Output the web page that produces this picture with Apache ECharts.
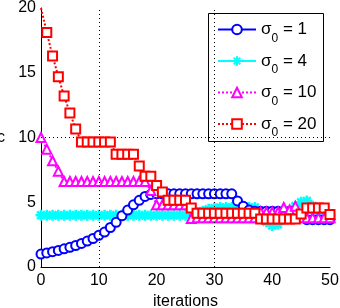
<!DOCTYPE html>
<html><head><meta charset="utf-8">
<script src="https://cdn.jsdelivr.net/npm/echarts@6/dist/echarts.min.js"></script>
<style>html,body{margin:0;padding:0;background:#fff}#c{width:340px;height:308px}</style>
</head><body><div id="c"></div>
<script>
const iterations = [0,1,2,3,4,5,6,7,8,9,10,11,12,13,14,15,16,17,18,19,20,21,22,23,24,25,26,27,28,29,30,31,32,33,34,35,36,37,38,39,40,41,42,43,44,45,46,47,48,49,50];
const sigma1 = [1.0,1.09,1.18,1.28,1.4,1.52,1.66,1.82,2.0,2.2,2.45,2.7,3.05,3.45,3.95,4.4,4.8,5.15,5.45,5.6,5.65,5.65,5.65,5.65,5.65,5.65,5.65,5.65,5.65,5.65,5.65,5.65,5.65,5.65,5.1,4.7,4.4,4.3,4.3,4.3,4.3,4.3,4.3,4.3,4.3,3.9,3.65,3.65,3.65,3.65,3.65];
const sigma4 = [4,4,4,4,4,4,4,4,4,4,4,4,4,4,4,4,4,4,4,4,4,4,4,4,4,4,4.1,4.2,4.3,4.45,4.55,4.6,4.6,4.6,4.6,4.6,4.6,4.6,4.0,3.5,3.2,3.3,3.7,4.2,4.7,5.0,5.1,4.7,4.2,4.0,4.0];
const sigma10 = [10,9.1,8.2,7.4,6.6,6.6,6.6,6.6,6.6,6.6,6.6,6.6,6.6,6.6,6.6,6.6,6.6,6.6,6.6,5.9,4.8,4.8,4.8,4.8,4.8,4.8,3.75,3.8,3.8,3.8,3.8,3.8,3.8,3.8,3.8,3.8,3.8,3.8,4.25,4.25,4.25,4.25,4.6,4.4,4.7,3.8,3.8,3.8,3.8,3.8,3.8];
const sigma20 = [20,18.1,16.3,14.7,13.2,11.9,10.65,9.65,9.65,9.65,9.65,9.65,9.65,8.7,8.7,8.7,8.7,7.8,7.0,7.0,6.3,5.8,5.15,5.15,5.15,5.15,4.55,4.15,4.15,4.15,4.15,4.15,4.15,4.15,4.15,4.15,4.15,4.15,3.7,3.7,3.7,3.7,3.7,3.7,3.7,4.1,4.55,4.55,4.55,4.55,4.05];
const seriesNames = ['1','4','10','20'];
const xTicks = [0,10,20,30,40,50];
const yTicks = [0,5,10,15,20];
const gridX = [10,30];
const gridY = [10];

const pairs = (ys) => iterations.map((x,i) => [x, ys[i]]);
const FONT = 'Liberation Sans';
const asterisk = 'path://M5,0L5,10M0,5L10,5M1.5,1.5L8.5,8.5M1.5,8.5L8.5,1.5';

const redData = pairs(sigma20);
redData[0] = {value: redData[0], symbol: 'none'};

const chart = echarts.init(document.getElementById('c'), null, {renderer: 'canvas'});
chart.setOption({
  animation: false,
  backgroundColor: '#fff',
  grid: {left: 41, right: 10, top: 8, bottom: 41, containLabel: false, outerBoundsMode: 'none'},
  graphic: [{
    type: 'rect', z: 3, silent: true,
    shape: {x: 208.5, y: 13.5, width: 115, height: 128},
    style: {fill: '#fff', stroke: '#000', lineWidth: 1}
  }],
  xAxis: {
    type: 'value', min: xTicks[0], max: xTicks[xTicks.length-1], interval: 10,
    axisLine: {lineStyle: {color: '#000', width: 1}},
    axisTick: {show: false}, splitLine: {show: false},
    axisLabel: {fontSize: 16, color: '#000', fontFamily: FONT, margin: 6},
    name: 'iterations', nameLocation: 'middle', nameGap: 23,
    nameTextStyle: {fontSize: 16, color: '#000', fontFamily: FONT}
  },
  yAxis: {
    type: 'value', min: yTicks[0], max: yTicks[yTicks.length-1], interval: 5,
    axisLine: {show: true, lineStyle: {color: '#000', width: 1}},
    axisTick: {show: false}, splitLine: {show: false},
    axisLabel: {fontSize: 16, color: '#000', fontFamily: FONT, margin: 5},
    name: 'c', nameLocation: 'middle', nameRotate: 0, nameGap: 36,
    nameTextStyle: {fontSize: 16, color: '#000', fontFamily: FONT}
  },
  legend: {
    data: seriesNames.map(n => 'σ' + n),
    orient: 'vertical', left: 217, top: 21, z: 6,
    padding: 0, itemGap: 8, itemWidth: 38, itemHeight: 12,
    formatter: (name) => '{a|σ}{b|0}{a| = ' + name.slice(1) + '}',
    textStyle: {
      color: '#000', fontFamily: FONT,
      rich: {
        a: {fontSize: 17, fontFamily: FONT, color: '#000', lineHeight: 30, verticalAlign: 'middle'},
        b: {fontSize: 12, fontFamily: FONT, color: '#000', lineHeight: 12, verticalAlign: 'bottom'}
      }
    }
  },
  series: [
    {
      name: 'σ1', type: 'line', z: 3, data: pairs(sigma1),
      symbol: 'emptyCircle', symbolSize: 9, showAllSymbol: true,
      lineStyle: {color: '#0000ff', width: 2},
      itemStyle: {color: '#0000ff', borderColor: '#0000ff', borderWidth: 1.8}
    },
    {
      name: 'σ4', type: 'line', z: 2, data: pairs(sigma4),
      symbol: asterisk, symbolSize: 11, showAllSymbol: true,
      lineStyle: {color: '#00ffff', width: 2},
      itemStyle: {color: '#00ffff', borderColor: '#00ffff', borderWidth: 2.6},
      markLine: {
        silent: true, symbol: ['none','none'], label: {show: false},
        lineStyle: {color: '#000', width: 1, type: [1,3]},
        data: gridX.map(v => ({xAxis: v})).concat(gridY.map(v => ({yAxis: v})))
      }
    },
    {
      name: 'σ10', type: 'line', z: 4, data: pairs(sigma10),
      symbol: 'emptyTriangle', symbolSize: 9, showAllSymbol: true,
      lineStyle: {color: '#ff00ff', width: 2, type: [2,2]},
      itemStyle: {color: '#ff00ff', borderColor: '#ff00ff', borderWidth: 1.8}
    },
    {
      name: 'σ20', type: 'line', z: 5, data: redData,
      symbol: 'emptyRect', symbolSize: 9, showAllSymbol: true,
      lineStyle: {color: '#ff0000', width: 2, type: [2,2]},
      itemStyle: {color: '#ff0000', borderColor: '#ff0000', borderWidth: 2.2}
    }
  ]
});
</script></body></html>
